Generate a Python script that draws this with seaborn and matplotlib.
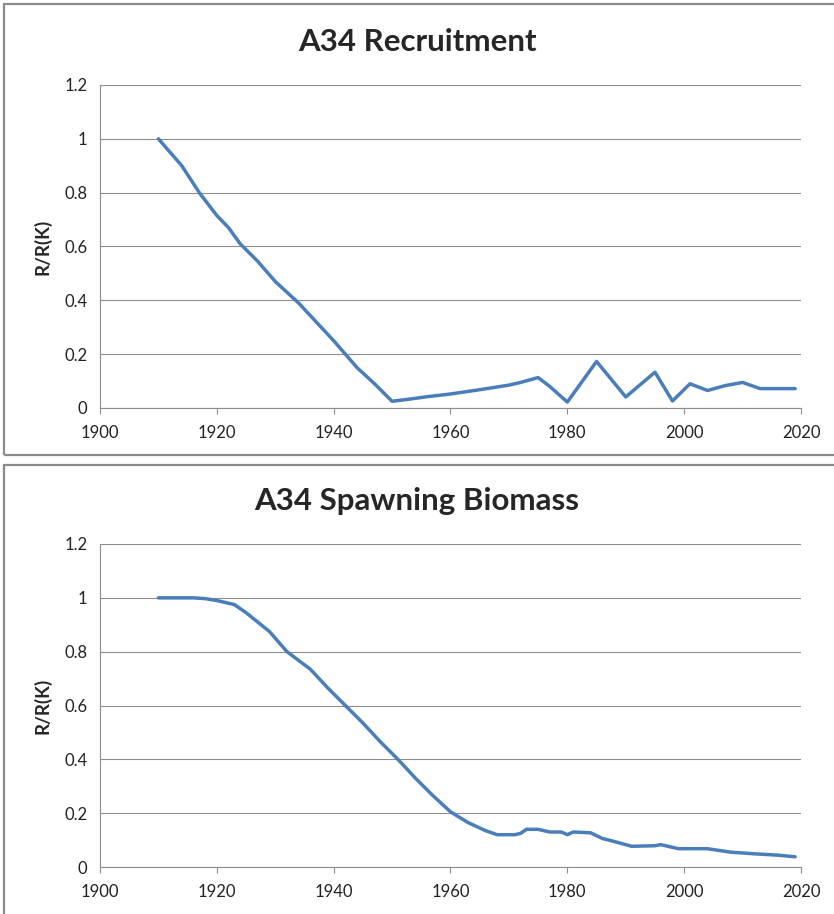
import matplotlib

matplotlib.use("Agg")

import matplotlib.pyplot as plt
import pandas as pd
import seaborn as sns
from matplotlib.patches import Rectangle

# values
recruit_years = [1910, 1912, 1914, 1917, 1920, 1922, 1924, 1927, 1930, 1934, 1937, 1940,
                 1942, 1944, 1947, 1950, 1953, 1956, 1960, 1965, 1970, 1972, 1975, 1977,
                 1980, 1985, 1990, 1995, 1998, 2001, 2004, 2007, 2010, 2013, 2019]
recruit_values = [1.0, 0.95, 0.9, 0.8, 0.715, 0.67, 0.61, 0.545, 0.47, 0.39, 0.32, 0.25,
                  0.2, 0.15, 0.09, 0.025, 0.033, 0.042, 0.052, 0.068, 0.085, 0.095, 0.113, 0.08,
                  0.022, 0.173, 0.041, 0.133, 0.026, 0.09, 0.065, 0.083, 0.095, 0.072, 0.072]

biomass_years = [1910, 1914, 1916, 1918, 1920, 1923, 1925, 1927, 1929, 1932, 1936, 1939,
                 1942, 1945, 1948, 1951, 1954, 1957, 1960, 1963, 1966, 1968, 1971, 1972,
                 1973, 1975, 1977, 1979, 1980, 1981, 1984, 1986, 1988, 1991, 1995, 1996,
                 1999, 2004, 2008, 2012, 2016, 2019]
biomass_values = [1.0, 1.0, 1.0, 0.997, 0.99, 0.975, 0.945, 0.91, 0.875, 0.8, 0.735, 0.665,
                  0.6, 0.535, 0.465, 0.4, 0.33, 0.265, 0.205, 0.165, 0.135, 0.12, 0.12, 0.125,
                  0.14, 0.14, 0.13, 0.13, 0.12, 0.13, 0.127, 0.106, 0.095, 0.077, 0.079, 0.083,
                  0.068, 0.068, 0.055, 0.049, 0.044, 0.038]

panels = [
    ("A34 Recruitment", recruit_years, recruit_values),
    ("A34 Spawning Biomass", biomass_years, biomass_values),
]

x_ticks = [1900, 1920, 1940, 1960, 1980, 2000, 2020]
y_ticks = [0, 0.2, 0.4, 0.6, 0.8, 1.0, 1.2]
y_tick_labels = ["0", "0.2", "0.4", "0.6", "0.8", "1", "1.2"]

sns.set_style("white")
plt.rcParams["font.family"] = ["Lato", "DejaVu Sans"]

W, H = 834, 914
fig = plt.figure(figsize=(W / 100, H / 100), dpi=100)

line_color = "#4A7EBB"
grid_color = "#8E8E8E"
frame_color = "#8C8C8C"

# outer chart frames (Excel-style chart areas)
fig.add_artist(Rectangle((4 / W, 1 - 455 / H), 2.0, 451 / H, transform=fig.transFigure,
                         fill=False, edgecolor=frame_color, linewidth=1.6))
fig.add_artist(Rectangle((4 / W, -0.05), 2.0, 1 - 465 / H + 0.05, transform=fig.transFigure,
                         fill=False, edgecolor=frame_color, linewidth=1.6))

axes_tops = [85, 544]
for (title, years, values), top in zip(panels, axes_tops):
    ax = fig.add_axes([100 / W, 1 - (top + 323) / H, 701 / W, 323 / H])
    df = pd.DataFrame({"year": years, "value": values})
    sns.lineplot(data=df, x="year", y="value", ax=ax, color=line_color, linewidth=2.5)

    ax.set_xlim(1900, 2020)
    ax.set_ylim(0, 1.2)
    ax.set_xticks(x_ticks)
    ax.set_xticklabels([str(t) for t in x_ticks], fontsize=12, color="#222222")
    ax.set_yticks(y_ticks)
    ax.set_yticklabels(y_tick_labels, fontsize=12, color="#222222")
    ax.tick_params(axis="x", length=4, width=0.8, color=grid_color, pad=8, direction="out", bottom=True)
    ax.tick_params(axis="y", length=0, pad=9)

    ax.grid(axis="y", color=grid_color, linewidth=0.8)
    ax.grid(axis="x", visible=False)
    for side in ["top", "right"]:
        ax.spines[side].set_visible(False)
    for side in ["left", "bottom"]:
        ax.spines[side].set_color(grid_color)
        ax.spines[side].set_linewidth(0.8)

    ax.set_xlabel("")
    ax.set_ylabel("R/R(K)", fontsize=13.5, fontweight="bold", va="center")
    ax.yaxis.set_label_coords(-58 / 701, 0.5)

    fig.text(0.5, 1 - (top - 43) / H, title, ha="center", va="center",
             fontsize=22.5, fontweight="bold")

fig.savefig("out.png", dpi=100)
plt.close(fig)
